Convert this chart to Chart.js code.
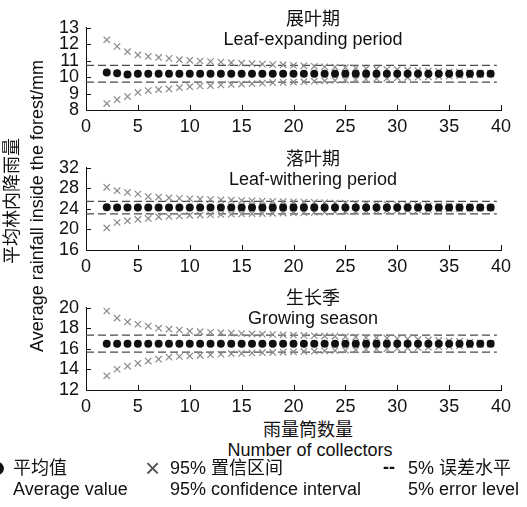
<!DOCTYPE html>
<html lang="zh">
<head>
<meta charset="UTF-8">
<title>Average rainfall vs number of collectors</title>
<script src="https://cdn.jsdelivr.net/npm/chart.js"></script>
<style>
  body { margin: 0; background: #fff; }
  #wrap { position: relative; width: 527px; height: 507px; overflow: hidden;
          font-family: "Liberation Sans", Arial, "Noto Sans CJK SC", sans-serif; color: #111; }
  canvas { position: absolute; left: 0; }
  .t { position: absolute; font-size: 18px; line-height: 18px; white-space: nowrap; }
  .c { transform: translateX(-50%); }
  .rot { transform: translate(-50%, -50%) rotate(-90deg); }
</style>
</head>
<body>
<div id="wrap">
  <canvas id="p1" width="527" height="125" style="top:10px"></canvas>
  <canvas id="p2" width="527" height="125" style="top:150px"></canvas>
  <canvas id="p3" width="527" height="125" style="top:290px"></canvas>

  <div class="t c" style="left:313px; top:10px">展叶期</div>
  <div class="t c" style="left:313px; top:30px">Leaf-expanding period</div>
  <div class="t c" style="left:313px; top:150px">落叶期</div>
  <div class="t c" style="left:313px; top:170px">Leaf-withering period</div>
  <div class="t c" style="left:313px; top:289px">生长季</div>
  <div class="t c" style="left:313px; top:309px">Growing season</div>

  <div class="t rot" style="left:12px; top:201px">平均林内降雨量</div>
  <div class="t rot" style="left:37px; top:206px">Average rainfall inside the forest/mm</div>

  <div class="t c" style="left:308px; top:421px">雨量筒数量</div>
  <div class="t c" style="left:310px; top:441px">Number of collectors</div>

  <div style="position:absolute; left:-9px; top:462px; width:13px; height:13px; border-radius:50%; background:#111"></div>
  <div class="t" style="left:13px; top:459px">平均值</div>
  <div class="t" style="left:145px; top:455px; font-size:26px; line-height:26px; color:#555">×</div>
  <div class="t" style="left:170px; top:459px">95% 置信区间</div>
  <div class="t" style="left:383px; top:458px; font-weight:bold">--</div>
  <div class="t" style="left:408px; top:459px">5% 误差水平</div>
  <div class="t" style="left:13px; top:480px">Average value</div>
  <div class="t" style="left:170px; top:480px">95% confidence interval</div>
  <div class="t" style="left:408px; top:480px">5% error level</div>
</div>

<script>
// number of collectors on the x axis
const collectors = [2, 3, 4, 5, 6, 7, 8, 9, 10, 11, 12, 13, 14, 15, 16, 17, 18, 19, 20,
  21, 22, 23, 24, 25, 26, 27, 28, 29, 30, 31, 32, 33, 34, 35, 36, 37, 38, 39];
const errSpan = [0, 39.6];

// leaf-expanding period
const mean1 = [10.28, 10.24, 10.16, 10.2, 10.2, 10.2, 10.2, 10.2, 10.2, 10.2, 10.2, 10.2, 10.2, 10.2, 10.2,
  10.2, 10.2, 10.2, 10.2, 10.2, 10.2, 10.2, 10.2, 10.2, 10.2, 10.2, 10.2, 10.2, 10.2, 10.2, 10.2, 10.2,
  10.2, 10.2, 10.2, 10.2, 10.2, 10.2];
const upper1 = [12.27, 11.87, 11.55, 11.35, 11.26, 11.2, 11.14, 11.06, 11.02, 10.98, 10.95, 10.92, 10.88,
  10.85, 10.82, 10.79, 10.76, 10.74, 10.71, 10.69, 10.66, 10.63, 10.61, 10.58, 10.55, 10.52, 10.5, 10.47,
  10.45, 10.42, 10.4, 10.37, 10.35, 10.32, 10.3, 10.27, 10.25, 10.22];
const lower1 = [8.39, 8.63, 8.82, 9.07, 9.18, 9.24, 9.28, 9.36, 9.42, 9.46, 9.48, 9.52, 9.55, 9.58, 9.6,
  9.63, 9.66, 9.68, 9.7, 9.72, 9.75, 9.77, 9.8, 9.82, 9.85, 9.87, 9.9, 9.92, 9.95, 9.97, 10.0, 10.02,
  10.05, 10.07, 10.1, 10.12, 10.15, 10.18];
const err1 = [10.72, 9.7];

// leaf-withering period
const mean2 = [24.3, 24.25, 24.25, 24.25, 24.25, 24.25, 24.25, 24.25, 24.25, 24.25, 24.25, 24.25, 24.25,
  24.25, 24.25, 24.25, 24.25, 24.25, 24.25, 24.25, 24.25, 24.25, 24.25, 24.25, 24.25, 24.25, 24.25, 24.25,
  24.25, 24.25, 24.25, 24.25, 24.25, 24.25, 24.25, 24.25, 24.25, 24.25];
const upper2 = [28.2, 27.55, 27.2, 26.9, 26.4, 26.3, 26.15, 26.05, 25.95, 25.9, 25.82, 25.75, 25.7, 25.62,
  25.58, 25.52, 25.48, 25.42, 25.38, 25.33, 25.28, 25.22, 25.17, 25.12, 25.06, 25.0, 24.95, 24.9, 24.84,
  24.78, 24.72, 24.66, 24.6, 24.54, 24.48, 24.42, 24.36, 24.3];
const lower2 = [20.3, 21.35, 21.65, 21.95, 22.15, 22.45, 22.52, 22.62, 22.75, 22.8, 22.86, 22.92, 22.97,
  23.02, 23.06, 23.1, 23.14, 23.18, 23.22, 23.26, 23.3, 23.35, 23.4, 23.45, 23.5, 23.55, 23.6, 23.65,
  23.7, 23.75, 23.8, 23.85, 23.9, 23.96, 24.02, 24.08, 24.14, 24.2];
const err2 = [25.45, 23.05];

// growing season
const mean3 = [16.5, 16.5, 16.5, 16.5, 16.5, 16.5, 16.5, 16.5, 16.5, 16.5, 16.5, 16.5, 16.5, 16.5, 16.5,
  16.5, 16.5, 16.5, 16.5, 16.5, 16.5, 16.5, 16.5, 16.5, 16.5, 16.5, 16.5, 16.5, 16.5, 16.5, 16.5, 16.5,
  16.5, 16.5, 16.5, 16.5, 16.5, 16.5];
const upper3 = [19.69, 19.0, 18.62, 18.4, 18.22, 18.02, 17.92, 17.84, 17.72, 17.68, 17.62, 17.58, 17.54,
  17.5, 17.46, 17.43, 17.4, 17.37, 17.34, 17.31, 17.28, 17.25, 17.22, 17.18, 17.15, 17.11, 17.08, 17.04,
  17.0, 16.96, 16.92, 16.87, 16.82, 16.77, 16.72, 16.66, 16.6, 16.54];
const lower3 = [13.38, 14.02, 14.32, 14.6, 14.82, 15.0, 15.2, 15.26, 15.32, 15.38, 15.44, 15.48, 15.53,
  15.56, 15.6, 15.63, 15.66, 15.69, 15.72, 15.75, 15.78, 15.81, 15.84, 15.87, 15.9, 15.94, 15.97, 16.0,
  16.04, 16.08, 16.12, 16.17, 16.22, 16.27, 16.32, 16.37, 16.42, 16.47];
const err3 = [17.35, 15.68];

const pts = vals => collectors.map((c, i) => ({ x: c, y: vals[i] }));
const flat = v => errSpan.map(x => ({ x: x, y: v }));

// tick marks point into the plot
const innerTicks = {
  id: 'innerTicks',
  afterDraw(chart) {
    const { ctx, chartArea: a, scales: { x, y } } = chart;
    ctx.save();
    ctx.strokeStyle = '#111';
    ctx.lineWidth = 1;
    ctx.beginPath();
    x.ticks.forEach(t => {
      if (t.value === 0) return;
      const px = Math.round(x.getPixelForValue(t.value)) + 0.5;
      ctx.moveTo(px, a.bottom);
      ctx.lineTo(px, a.bottom - 5);
    });
    y.ticks.forEach(t => {
      const py = Math.round(y.getPixelForValue(t.value)) + 0.5;
      ctx.moveTo(a.left, py);
      ctx.lineTo(a.left + 5, py);
    });
    ctx.stroke();
    ctx.restore();
  }
};

function makePanel(id, mean, upper, lower, err, yMin, yMax, yStep) {
  const font = { family: '"Liberation Sans", Arial, sans-serif', size: 18 };
  const cross = { pointStyle: 'crossRot', pointRadius: 4.5, borderColor: '#8a8a8a', borderWidth: 1.2, showLine: false };
  const dash = { showLine: true, pointRadius: 0, borderColor: '#4a4a4a', borderWidth: 1.3, borderDash: [8, 4] };
  new Chart(document.getElementById(id), {
    type: 'scatter',
    data: {
      datasets: [
        { data: pts(mean), pointStyle: 'circle', pointRadius: 4, backgroundColor: '#111', borderWidth: 0 },
        Object.assign({ data: pts(upper) }, cross),
        Object.assign({ data: pts(lower) }, cross),
        Object.assign({ data: flat(err[0]) }, dash),
        Object.assign({ data: flat(err[1]) }, dash)
      ]
    },
    options: {
      responsive: false,
      animation: false,
      devicePixelRatio: 1,
      layout: { padding: { left: 0, right: 26, top: 13, bottom: 0 } },
      plugins: { legend: { display: false }, tooltip: { enabled: false } },
      scales: {
        x: {
          type: 'linear', min: 0, max: 40,
          grid: { display: false, drawTicks: false },
          border: { display: true, color: '#111', width: 1 },
          ticks: { stepSize: 5, autoSkip: false, maxRotation: 0, color: '#111', font: font, padding: 6 },
          afterFit: s => { s.height = 25; }
        },
        y: {
          type: 'linear', min: yMin, max: yMax,
          grid: { display: false, drawTicks: false },
          border: { display: true, color: '#111', width: 1 },
          ticks: { stepSize: yStep, autoSkip: false, color: '#111', font: font, padding: 7 },
          afterFit: s => { s.width = 86; }
        }
      }
    },
    plugins: [innerTicks]
  });
}

makePanel('p1', mean1, upper1, lower1, err1, 8, 13, 1);
makePanel('p2', mean2, upper2, lower2, err2, 16, 32, 4);
makePanel('p3', mean3, upper3, lower3, err3, 12, 20, 2);
</script>
</body>
</html>
